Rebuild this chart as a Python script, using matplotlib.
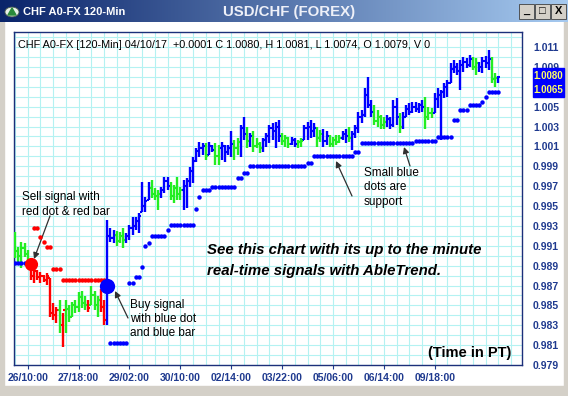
import numpy as np
import matplotlib
matplotlib.use("Agg")
import matplotlib.pyplot as plt
from matplotlib.patches import Rectangle, Circle, Polygon
from matplotlib.ticker import MultipleLocator, FormatStrFormatter
from matplotlib.transforms import Bbox, TransformedBbox

plt.rcParams['font.family'] = ['Liberation Sans', 'DejaVu Sans']

# ---- data (120-min bars, USD/CHF) ----
bar_colors = ("GGGGG RRRRRRRRR G R GGGGGGG R GGG RR BBB GGG BBBBBBBB GGG BBB GGGG "
              "BBBBBBB G BB GG BBBB GG BB G B GGG BBBBBB GGG BB GG BBBB GG BB GGGG "
              "BB G BBBBBBB GGGG BBBB G BBBBBBB GGG BBBBBBBBBBBB GG BBBB GG B").replace(" ", "")

highs = [0.9924, 0.9909, 0.9914, 0.9913, 0.9906, 0.9898, 0.9891, 0.9886, 0.9884, 0.9881,
         0.9883, 0.9878, 0.9852, 0.9848, 0.9855, 0.9842, 0.9855, 0.9850, 0.9853, 0.9855,
         0.9863, 0.9864, 0.9859, 0.9855, 0.9869, 0.9864, 0.9859, 0.9866, 0.9855, 0.9936,
         0.9928, 0.9926, 0.9925, 0.9924, 0.9928, 0.9923, 0.9931, 0.9939, 0.9939, 0.9943,
         0.9974, 0.9959, 0.9974, 0.9976, 0.9968, 0.9966, 0.9969, 0.9979, 0.9979, 0.9974,
         0.9971, 0.9979, 0.9969, 0.9976, 0.9978, 0.9989, 0.9999, 1.0008, 1.0014, 1.0013,
         1.0013, 1.0014, 1.0011, 1.0013, 1.0011, 1.0014, 1.0011, 1.0011, 1.0025, 1.0016,
         1.0018, 1.0032, 1.0040, 1.0030, 1.0023, 1.0025, 1.0018, 1.0014, 1.0018, 1.0023,
         1.0032, 1.0034, 1.0035, 1.0037, 1.0023, 1.0021, 1.0019, 1.0019, 1.0018, 1.0016,
         1.0018, 1.0032, 1.0035, 1.0037, 1.0034, 1.0030, 1.0026, 1.0027, 1.0025, 1.0021,
         1.0019, 1.0021, 1.0021, 1.0025, 1.0027, 1.0030, 1.0025, 1.0032, 1.0045, 1.0047,
         1.0069, 1.0080, 1.0057, 1.0052, 1.0047, 1.0042, 1.0040, 1.0042, 1.0040, 1.0057,
         1.0059, 1.0044, 1.0045, 1.0052, 1.0054, 1.0055, 1.0055, 1.0054, 1.0057, 1.0060,
         1.0050, 1.0049, 1.0064, 1.0069, 1.0067, 1.0074, 1.0077, 1.0094, 1.0097, 1.0094,
         1.0097, 1.0100, 1.0099, 1.0102, 1.0100, 1.0099, 1.0095, 1.0100, 1.0101, 1.0107,
         1.0100, 1.0084, 1.0081]

lows = [0.9898, 0.9894, 0.9888, 0.9899, 0.9891, 0.9876, 0.9873, 0.9876, 0.9873, 0.9874,
        0.9871, 0.9838, 0.9835, 0.9832, 0.9822, 0.9808, 0.9822, 0.9833, 0.9838, 0.9842,
        0.9843, 0.9847, 0.9845, 0.9843, 0.9850, 0.9845, 0.9838, 0.9843, 0.9830, 0.9830,
        0.9914, 0.9913, 0.9910, 0.9913, 0.9908, 0.9913, 0.9916, 0.9921, 0.9926, 0.9923,
        0.9944, 0.9944, 0.9956, 0.9958, 0.9956, 0.9946, 0.9958, 0.9963, 0.9966, 0.9956,
        0.9953, 0.9956, 0.9956, 0.9946, 0.9948, 0.9969, 0.9973, 0.9994, 0.9999, 1.0001,
        0.9996, 1.0001, 1.0004, 0.9991, 0.9991, 0.9996, 0.9994, 1.0001, 0.9999, 0.9996,
        1.0001, 0.9999, 1.0016, 1.0008, 1.0009, 1.0004, 1.0008, 1.0003, 1.0004, 1.0009,
        1.0013, 1.0016, 1.0008, 1.0014, 1.0011, 1.0009, 1.0008, 1.0011, 1.0009, 1.0008,
        1.0009, 1.0016, 1.0016, 1.0018, 1.0019, 1.0009, 1.0014, 1.0009, 1.0011, 1.0009,
        1.0009, 1.0011, 1.0013, 1.0016, 1.0013, 1.0014, 1.0006, 1.0018, 1.0023, 1.0034,
        1.0040, 1.0049, 1.0040, 1.0032, 1.0030, 1.0027, 1.0027, 1.0030, 1.0027, 1.0030,
        1.0032, 1.0023, 1.0027, 1.0040, 1.0042, 1.0044, 1.0045, 1.0044, 1.0045, 1.0027,
        1.0037, 1.0039, 1.0044, 1.0049, 1.0016, 1.0059, 1.0060, 1.0074, 1.0084, 1.0082,
        1.0067, 1.0085, 1.0089, 1.0090, 1.0087, 1.0082, 1.0085, 1.0084, 1.0089, 1.0087,
        1.0074, 1.0070, 1.0074]

closes = [0.9905, 0.9900, 0.9908, 0.9902, 0.9895, 0.9880, 0.9885, 0.9879, 0.9880, 0.9876,
          0.9880, 0.9842, 0.9840, 0.9845, 0.9830, 0.9845, 0.9846, 0.9838, 0.9850, 0.9848,
          0.9858, 0.9852, 0.9850, 0.9847, 0.9860, 0.9850, 0.9855, 0.9848, 0.9835, 0.9920,
          0.9918, 0.9921, 0.9915, 0.9920, 0.9916, 0.9920, 0.9928, 0.9930, 0.9935, 0.9940,
          0.9950, 0.9955, 0.9968, 0.9962, 0.9960, 0.9962, 0.9966, 0.9975, 0.9970, 0.9960,
          0.9968, 0.9962, 0.9966, 0.9970, 0.9975, 0.9985, 0.9995, 1.0005, 1.0008, 1.0010,
          1.0000, 1.0010, 1.0006, 1.0000, 1.0008, 1.0010, 1.0004, 1.0008, 1.0012, 1.0008,
          1.0014, 1.0028, 1.0022, 1.0015, 1.0020, 1.0010, 1.0012, 1.0008, 1.0016, 1.0020,
          1.0028, 1.0025, 1.0030, 1.0020, 1.0015, 1.0018, 1.0012, 1.0016, 1.0012, 1.0014,
          1.0015, 1.0028, 1.0030, 1.0025, 1.0028, 1.0018, 1.0022, 1.0015, 1.0020, 1.0012,
          1.0016, 1.0014, 1.0018, 1.0022, 1.0020, 1.0018, 1.0022, 1.0028, 1.0040, 1.0042,
          1.0062, 1.0052, 1.0045, 1.0036, 1.0040, 1.0032, 1.0035, 1.0038, 1.0032, 1.0050,
          1.0040, 1.0030, 1.0040, 1.0048, 1.0045, 1.0050, 1.0048, 1.0052, 1.0050, 1.0040,
          1.0044, 1.0042, 1.0058, 1.0062, 1.0065, 1.0070, 1.0074, 1.0088, 1.0090, 1.0086,
          1.0092, 1.0095, 1.0092, 1.0098, 1.0090, 1.0094, 1.0090, 1.0096, 1.0094, 1.0098,
          1.0078, 1.0079, 1.0080]
first_open = 0.9915

# stop dots: (first bar, last bar, level)
blue_stops = [(0, 4, 0.9893), (30, 35, 0.9812), (36, 37, 0.9873), (38, 39, 0.9879),
              (40, 40, 0.9889), (41, 41, 0.9910), (42, 42, 0.9913), (43, 47, 0.9920),
              (48, 48, 0.9926), (49, 56, 0.9931), (57, 57, 0.9947), (58, 58, 0.9959),
              (59, 61, 0.9966), (62, 69, 0.9969), (70, 71, 0.9978), (72, 73, 0.9983),
              (74, 91, 0.9990), (92, 93, 0.9993), (94, 106, 1.0000), (107, 108, 1.0004),
              (109, 125, 1.0013), (126, 132, 1.0015), (133, 137, 1.0019), (138, 139, 1.0037),
              (140, 142, 1.0047), (143, 146, 1.0052), (147, 147, 1.0055), (148, 148, 1.0060),
              (149, 152, 1.0065)]
red_stops = [(6, 7, 0.9928), (8, 8, 0.9919), (9, 9, 0.9914), (10, 11, 0.9909),
             (12, 14, 0.9887), (15, 28, 0.9876)]
sell_signal = (5, 0.9892)
buy_signal = (29, 0.9870)

x_labels = ["26/10:00", "27/18:00", "29/02:00", "30/10:00", "02/14:00",
            "03/22:00", "05/06:00", "06/14:00", "09/18:00"]
x_label_bars = [4, 20, 36, 52, 68, 84, 100, 116, 132]

# ---- figure ----
W, H = 568, 396
fig = plt.figure(figsize=(W / 100, H / 100), dpi=100)
fig.patch.set_facecolor('white')

def fx(px):
    return px / W

def fy(py):
    return 1 - py / H

NAVY = '#1f3a8f'
col_map = {'B': '#0000ff', 'G': '#22ee22', 'R': '#ff0000'}

# window frame bits
for rect in [(0, 0, 4 / W, 1), (fx(564), 0, 4 / W, 1), (0, 0, 1, 10 / H)]:
    fig.patches.append(Rectangle(rect[:2], rect[2], rect[3], transform=fig.transFigure,
                                 color='#d4d0c8', zorder=-1))

# title bar gradient
tb = fig.add_axes([0, fy(22), 1, 22 / H])
grad = np.linspace(0, 1, 256)[None, :]
c0 = np.array([10, 36, 106]) / 255
c1 = np.array([166, 202, 240]) / 255
img = c0[None, None, :] * (1 - grad[..., None]) + c1[None, None, :] * grad[..., None]
tb.imshow(img, aspect='auto', extent=[0, 1, 0, 1])
tb.set_axis_off()
fig.patches.append(Circle((fx(12), fy(12)), 7 / W, transform=fig.transFigure, facecolor='#e8f0e8',
                          edgecolor='#506050', lw=0.6, zorder=5))
fig.patches.append(Polygon([(fx(8), fy(15)), (fx(16), fy(15)), (fx(12), fy(8))], closed=True,
                           transform=fig.transFigure, color='#2a8a3a', zorder=6))
fig.text(fx(23), fy(12), "CHF A0-FX 120-Min", color='white', fontsize=8, fontweight='bold',
         va='center', ha='left')
fig.text(fx(289), fy(12), "USD/CHF (FOREX)", color='#eef0f8', fontsize=10.8, fontweight='bold',
         va='center', ha='center')
for bx, glyph in zip([519, 535, 551], ['_', '□', 'X']):
    fig.patches.append(Rectangle((fx(bx), fy(19)), 15 / W, 15 / H, transform=fig.transFigure,
                                 facecolor='#d4d0c8', edgecolor='#404040', lw=0.6, zorder=5))
    fig.text(fx(bx + 7.5), fy(11.5), glyph, fontsize=8, fontweight='bold', ha='center',
             va='center', color='black', zorder=6)

# main price panel
ax = fig.add_axes([fx(14), fy(365), (522 - 14) / W, (365 - 32) / H])
ax.set_xlim((14 - 15) / 3.18, (522 - 15) / 3.18)
ax.set_ylim(0.97901, 1.01251)
ax.set_facecolor('white')

idx = np.arange(len(highs))
hi = np.array(highs)
lo = np.array(lows)
cl = np.array(closes)
op = np.clip(np.r_[first_open, cl[:-1]], lo, hi)
cols = [col_map[c] for c in bar_colors]

ax.vlines(idx, lo, hi, colors=cols, lw=1.7, zorder=3)
ax.hlines(op, idx - 0.6, idx, colors=cols, lw=1.5, zorder=3)
ax.hlines(cl, idx, idx + 0.6, colors=cols, lw=1.5, zorder=3)

for stops, c in [(blue_stops, '#0000ff'), (red_stops, '#ff0000')]:
    for a, b, lev in stops:
        xs = np.arange(a, b + 1)
        ax.plot(xs, np.full(len(xs), lev), 'o', color=c, ms=3.2, mec='none', zorder=4)

ax.plot(*sell_signal, 'o', color='#ff0000', ms=9.5, mec='none', zorder=5)
ax.plot(*buy_signal, 'o', color='#0000ff', ms=11, mec='none', zorder=5)

ax.xaxis.set_minor_locator(MultipleLocator(4))
ax.yaxis.set_minor_locator(MultipleLocator(0.001))
ax.grid(which='both', color='#b4f2f2', lw=0.8)
ax.set_axisbelow(True)
ax.set_xticks(x_label_bars)
ax.set_xticklabels(x_labels)
ax.set_yticks(np.arange(0.979, 1.0115, 0.002))
ax.yaxis.set_major_formatter(FormatStrFormatter('%.3f'))
ax.yaxis.tick_right()
ax.tick_params(axis='y', length=0, pad=8, labelsize=7.5, labelcolor=NAVY)
ax.tick_params(axis='x', length=3, pad=2.5, labelsize=7.5, labelcolor=NAVY, color=NAVY, direction='out')
ax.tick_params(which='minor', length=0)
fig.canvas.draw()
# labels that sit behind the last-value box: 1.007 fully hidden, 1.009 cut at the box top
visible_top = TransformedBbox(Bbox([[0, fy(68)], [1, 1]]), fig.transFigure)
for lab in ax.get_yticklabels():
    if lab.get_text() == '1.007':
        lab.set_visible(False)
    elif lab.get_text() == '1.009':
        lab.set_clip_box(visible_top)
        lab.set_clip_on(True)
for lab in ax.get_xticklabels() + ax.get_yticklabels():
    lab.set_fontweight('bold')
for sp in ax.spines.values():
    sp.set_color('#1c2f7a')
    sp.set_linewidth(1.0)

# header line
ax.text(fx(18), fy(45), "CHF A0-FX [120-Min] 04/10/17  +0.0001 C 1.0080, H 1.0081, L 1.0074, O 1.0079, V 0",
        transform=fig.transFigure, fontsize=7.8, color='black', va='center', ha='left')

# last value boxes
fig.patches.append(Rectangle((fx(533), fy(97)), 31 / W, 29 / H, transform=fig.transFigure,
                             color='#0000ff', zorder=10))
fig.text(fx(548.5), fy(76), "1.0080", color='#ffff66', fontsize=7, fontweight='bold',
         ha='center', va='center', zorder=11)
fig.text(fx(548.5), fy(90), "1.0065", color='#ffff66', fontsize=7, fontweight='bold',
         ha='center', va='center', zorder=11)

# annotations
arrow = dict(arrowstyle='-|>', color='#303030', lw=0.9, mutation_scale=9, shrinkA=0, shrinkB=0)
fig.text(fx(22), fy(197), "Sell signal with", fontsize=8.5, va='center', ha='left')
fig.text(fx(22), fy(212), "red dot & red bar", fontsize=8.5, va='center', ha='left')
ax.annotate("", xy=(fx(34), fy(259)), xytext=(fx(50), fy(216)), xycoords='figure fraction',
            textcoords='figure fraction', arrowprops=arrow)

for k, line in enumerate(["Buy signal", "with blue dot", "and blue bar"]):
    fig.text(fx(130), fy(305 + 14 * k), line, fontsize=8.5, va='center', ha='left')
ax.annotate("", xy=(fx(115), fy(291)), xytext=(fx(128), fy(318)), xycoords='figure fraction',
            textcoords='figure fraction', arrowprops=arrow)

for k, line in enumerate(["Small blue", "dots are", "support"]):
    fig.text(fx(364), fy(173 + 14.5 * k), line, fontsize=8.5, va='center', ha='left')
ax.annotate("", xy=(fx(336), fy(161)), xytext=(fx(352), fy(196)), xycoords='figure fraction',
            textcoords='figure fraction', arrowprops=arrow)
ax.annotate("", xy=(fx(404), fy(147)), xytext=(fx(410), fy(166)), xycoords='figure fraction',
            textcoords='figure fraction', arrowprops=arrow)

fig.text(fx(207), fy(250), "See this chart with its up to the minute", fontsize=10.8,
         fontweight='bold', fontstyle='italic', va='center', ha='left')
fig.text(fx(207), fy(271), "real-time signals with AbleTrend.", fontsize=10.8,
         fontweight='bold', fontstyle='italic', va='center', ha='left')
fig.text(fx(511), fy(353), "(Time in PT)", fontsize=10.5, fontweight='bold', va='center', ha='right')

fig.savefig("out.png", dpi=100)
